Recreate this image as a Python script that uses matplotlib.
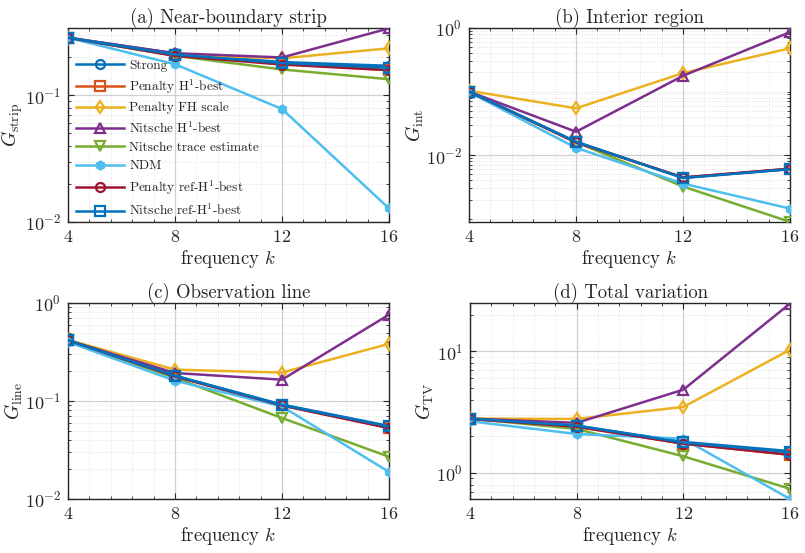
import numpy as np
import matplotlib
matplotlib.use("Agg")
import matplotlib.pyplot as plt
from matplotlib.ticker import LogLocator, NullFormatter, AutoMinorLocator, FixedLocator

plt.rcParams['font.family'] = ['cmr10', 'DejaVu Serif']
plt.rcParams['mathtext.fontset'] = 'cm'
plt.rcParams['axes.formatter.use_mathtext'] = True

k = [4, 8, 12, 16]

labels = ["Strong", "Penalty H$^{1}$-best", "Penalty FH scale", "Nitsche H$^{1}$-best",
          "Nitsche trace estimate", "NDM", "Penalty ref-H$^{1}$-best", "Nitsche ref-H$^{1}$-best"]

# (a) near-boundary strip
strip_strong = [0.285, 0.214, 0.183, 0.171]
strip_pen_h1 = [0.285, 0.207, 0.178, 0.158]
strip_pen_fh = [0.285, 0.210, 0.196, 0.235]
strip_nit_h1 = [0.285, 0.215, 0.199, 0.338]
strip_nit_tr = [0.285, 0.205, 0.160, 0.134]
strip_ndm = [0.285, 0.176, 0.078, 0.0128]
strip_pen_ref = [0.285, 0.205, 0.175, 0.158]
strip_nit_ref = [0.285, 0.210, 0.180, 0.165]

# (b) interior region
int_strong = [0.100, 0.0162, 0.00443, 0.0060]
int_pen_h1 = [0.100, 0.0160, 0.00440, 0.0061]
int_pen_fh = [0.103, 0.0545, 0.195, 0.48]
int_nit_h1 = [0.100, 0.0233, 0.177, 0.86]
int_nit_tr = [0.100, 0.0160, 0.0032, 0.00089]
int_ndm = [0.098, 0.0130, 0.00356, 0.00144]
int_pen_ref = [0.100, 0.0158, 0.00445, 0.0061]
int_nit_ref = [0.100, 0.0162, 0.00435, 0.0060]

# (c) observation line
line_strong = [0.416, 0.181, 0.092, 0.0556]
line_pen_h1 = [0.416, 0.178, 0.090, 0.053]
line_pen_fh = [0.420, 0.209, 0.195, 0.383]
line_nit_h1 = [0.416, 0.193, 0.165, 0.76]
line_nit_tr = [0.416, 0.172, 0.067, 0.027]
line_ndm = [0.400, 0.161, 0.088, 0.0189]
line_pen_ref = [0.416, 0.178, 0.090, 0.053]
line_nit_ref = [0.416, 0.181, 0.091, 0.055]

# (d) total variation
tv_strong = [2.80, 2.45, 1.80, 1.51]
tv_pen_h1 = [2.78, 2.40, 1.74, 1.41]
tv_pen_fh = [2.80, 2.78, 3.49, 10.3]
tv_nit_h1 = [2.80, 2.58, 4.84, 24.7]
tv_nit_tr = [2.80, 2.30, 1.37, 0.74]
tv_ndm = [2.66, 2.09, 1.91, 0.61]
tv_pen_ref = [2.78, 2.40, 1.74, 1.41]
tv_nit_ref = [2.80, 2.45, 1.78, 1.48]

colors = ["#0072BD", "#D95319", "#EDB120", "#7E2F8E", "#77AC30", "#4DBEEE", "#A2142F", "#0072BD"]
markers = ["o", "s", "d", "^", "v", "h", "o", "s"]

panels = [
    ("(a) Near-boundary strip", r"$G_{\mathrm{strip}}$",
     [strip_strong, strip_pen_h1, strip_pen_fh, strip_nit_h1, strip_nit_tr, strip_ndm, strip_pen_ref, strip_nit_ref],
     (0.01, 0.34), [1e-2, 1e-1]),
    ("(b) Interior region", r"$G_{\mathrm{int}}$",
     [int_strong, int_pen_h1, int_pen_fh, int_nit_h1, int_nit_tr, int_ndm, int_pen_ref, int_nit_ref],
     (8.85e-4, 1.0), [1e-2, 1e0]),
    ("(c) Observation line", r"$G_{\mathrm{line}}$",
     [line_strong, line_pen_h1, line_pen_fh, line_nit_h1, line_nit_tr, line_ndm, line_pen_ref, line_nit_ref],
     (0.01, 1.0), [1e-2, 1e-1, 1e0]),
    ("(d) Total variation", r"$G_{\mathrm{TV}}$",
     [tv_strong, tv_pen_h1, tv_pen_fh, tv_nit_h1, tv_nit_tr, tv_ndm, tv_pen_ref, tv_nit_ref],
     (0.61, 25.0), [1e0, 1e1]),
]

W, H = 805, 553
fig = plt.figure(figsize=(W / 100, H / 100), dpi=100)
rects = [(68, 28, 389, 222), (469, 28, 790, 222), (68, 303, 389, 499), (470, 303, 790, 499)]

frame_col = "#262626"
for idx, ((title, ylab, series, ylim, yt), (x0, y0, x1, y1)) in enumerate(zip(panels, rects)):
    ax = fig.add_axes([x0 / W, 1 - y1 / H, (x1 - x0) / W, (y1 - y0) / H])
    for i, s in enumerate(series):
        mk = markers[i]
        if mk == "h":
            ax.plot(k, s, color=colors[i], lw=1.8, marker=mk, ms=6.5,
                    mfc=colors[i], mec=colors[i], label=labels[i], zorder=3)
        else:
            ax.plot(k, s, color=colors[i], lw=1.8, marker=mk, ms=6.5,
                    mfc="none", mec=colors[i], mew=1.6, label=labels[i], zorder=3)
    ax.set_yscale("log")
    ax.set_xlim(4, 16)
    ax.set_ylim(*ylim)
    ax.set_xticks(k)
    ax.xaxis.set_minor_locator(AutoMinorLocator(5))
    ax.yaxis.set_major_locator(FixedLocator(yt))
    ax.yaxis.set_minor_locator(LogLocator(base=10, subs=np.arange(1, 10), numticks=20))
    ax.yaxis.set_minor_formatter(NullFormatter())
    ax.grid(True, which="major", color="#d0d0d0", lw=0.9, ls="-", zorder=0)
    ax.grid(True, which="minor", color="#d8d8d8", lw=0.6, ls=(0, (1, 2)), zorder=0)
    ax.set_axisbelow(True)
    ax.tick_params(which="both", direction="in", top=True, right=True, color=frame_col,
                   labelsize=13, labelcolor="#262626")
    ax.tick_params(which="major", length=4, pad=5)
    ax.tick_params(which="minor", length=2)
    for sp in ax.spines.values():
        sp.set_color(frame_col)
        sp.set_linewidth(1.0)
    ax.set_title(title, fontsize=13.5, color="#262626", pad=3)
    ax.set_xlabel(r"frequency $k$", fontsize=13.5, color="#262626", labelpad=2)
    ax.set_ylabel(ylab, fontsize=14, color="#262626", labelpad=0)
    if idx == 0:
        leg = ax.legend(loc="upper left", bbox_to_anchor=(0.0, 0.88), frameon=False,
                        fontsize=9.6, handlelength=3.6, labelspacing=0.45,
                        handletextpad=0.4, borderaxespad=0.2)
        for t in leg.get_texts():
            t.set_color("#262626")

fig.savefig("out.png", dpi=100)
